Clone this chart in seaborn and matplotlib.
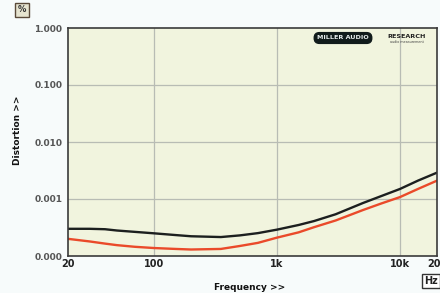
import matplotlib
matplotlib.use("Agg")
import matplotlib.pyplot as plt
import seaborn as sns
import pandas as pd
from matplotlib.ticker import FixedLocator, NullFormatter, LogLocator

freq = [20, 30, 40, 50, 70, 100, 150, 200, 350, 500, 700, 1000, 1500, 2000, 3000, 5000, 7000, 10000, 14000, 20000]
black_vals = [0.00030, 0.00030, 0.000295, 0.00028, 0.000265, 0.00025, 0.000233, 0.000222, 0.000215, 0.00023, 0.000252,
              0.00029, 0.00035, 0.00041, 0.00054, 0.00085, 0.00112, 0.0015, 0.0021, 0.0029]
red_vals = [0.00020, 0.00018, 0.000165, 0.000155, 0.000145, 0.000138, 0.000133, 0.00013, 0.000133, 0.00015, 0.00017,
            0.00021, 0.00026, 0.00032, 0.00042, 0.00064, 0.00083, 0.00108, 0.0015, 0.0021]
y_ticks = [0.0001, 0.001, 0.01, 0.1, 1.0]
y_labels = ["0.000", "0.001", "0.010", "0.100", "1.000"]
x_ticks = [20, 100, 1000, 10000, 20000]
x_labels = ["20", "100", "1k", "10k", "20k"]

sns.set_style("white")
fig = plt.figure(figsize=(4.4, 2.93), dpi=100, facecolor="#f7fbfb")
ax = fig.add_axes([68/440, 1-256/293, (437-68)/440, (256-28)/293])
ax.set_facecolor("#f1f4de")

df = pd.DataFrame({
    "freq": freq * 2,
    "val": black_vals + red_vals,
    "ch": ["L"] * len(freq) + ["R"] * len(freq),
})
sns.lineplot(data=df, x="freq", y="val", hue="ch", palette={"L": "#1c1f1f", "R": "#ea4a2a"},
             linewidth=1.7, legend=False, ax=ax, hue_order=["R", "L"])

ax.set_xscale("log")
ax.set_yscale("log")
ax.set_xlim(20, 20000)
ax.set_ylim(0.0001, 1.0)

ax.yaxis.set_major_locator(FixedLocator(y_ticks))
ax.set_yticklabels(y_labels)
ax.yaxis.set_minor_locator(FixedLocator([]))
ax.xaxis.set_major_locator(FixedLocator(x_ticks))
ax.set_xticklabels(x_labels)
ax.xaxis.set_minor_locator(LogLocator(base=10, subs=range(2, 10)))
ax.xaxis.set_minor_formatter(NullFormatter())

for v in [100, 1000, 10000]:
    ax.axvline(v, color="#b8bcb4", lw=0.9, zorder=0)
for v in [0.001, 0.01, 0.1]:
    ax.axhline(v, color="#b8bcb4", lw=0.9, zorder=0)

ax.tick_params(axis="y", which="major", length=3, width=0.8, color="#555555", pad=1,
               labelsize=6.5, labelcolor="#555555")
ax.tick_params(axis="x", which="major", length=3, width=0.8, direction="in", color="#666666",
               pad=2, labelsize=7)
ax.tick_params(axis="x", which="minor", length=2, width=0.6, direction="in", color="#888888")
for lab in ax.get_yticklabels():
    lab.set_fontweight("bold")
for lab in ax.get_xticklabels():
    lab.set_fontweight("bold")
    lab.set_color("#222222")

for s in ax.spines.values():
    s.set_color("#3a3a3a")
    s.set_linewidth(1.2)

ax.set_xlabel("")
ax.set_ylabel("")
fig.text(250/440, 1-288/293, "Frequency >>", ha="center", va="center", fontsize=6.5,
         fontweight="bold", color="#111111")
fig.text(18/440, 1-130/293, "Distortion >>", ha="center", va="center", rotation=90,
         fontsize=6.5, fontweight="bold", color="#111111")

fig.text(22/440, 1-10/293, "%", ha="center", va="center", fontsize=6, fontweight="bold",
         color="#333333",
         bbox=dict(boxstyle="square,pad=0.35", fc="#e6e4d0", ec="#5a4a3a", lw=1.0))
fig.text(424/440, 1-281/293, "Hz", ha="left", va="center", fontsize=7, fontweight="bold",
         color="#222222",
         bbox=dict(boxstyle="square,pad=0.25", fc="#ffffff", ec="#333333", lw=1.0))

fig.text(343/440, 1-38/293, "MILLER AUDIO", ha="center", va="center", fontsize=4.6,
         fontweight="bold", color="#e8eeee",
         bbox=dict(boxstyle="round,pad=0.45,rounding_size=0.8", fc="#111b1b", ec="#111b1b"))
fig.text(407/440, 1-37/293, "RESEARCH", ha="center", va="center", fontsize=4.6,
         fontweight="bold", color="#222222")
fig.text(407/440, 1-42/293, "audio measurement", ha="center", va="center", fontsize=2.4,
         color="#444444")

fig.savefig("out.png", dpi=100, facecolor=fig.get_facecolor())
